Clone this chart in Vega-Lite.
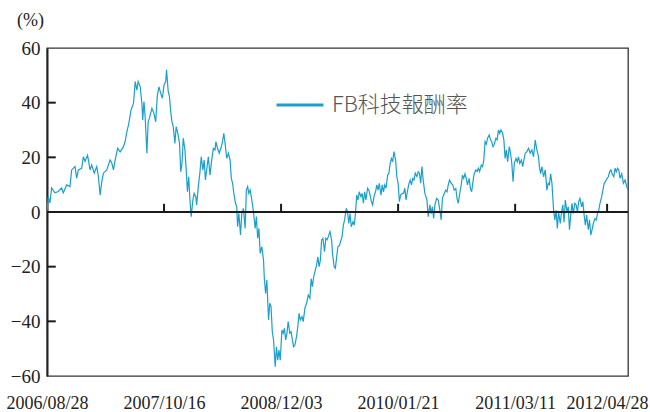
{
  "$schema": "https://vega.github.io/schema/vega-lite/v6.json",
  "width": 581,
  "height": 328,
  "autosize": {"type": "none"},
  "padding": {"left": 47, "top": 48, "right": 22, "bottom": 36},
  "background": "white",
  "config": {
    "view": {"stroke": "#333", "strokeWidth": 1.3},
    "axis": {"grid": false, "labelFont": "Liberation Serif", "labelColor": "#222", "titleFont": "Liberation Serif", "titleColor": "#222", "titleFontWeight": "normal"}
  },
  "datasets": {
    "ret": [
      {"d":0,"r":0},{"d":3,"r":5.6},{"d":7,"r":3.3},{"d":11,"r":8.8},{"d":19,"r":7},{"d":27,"r":7.5},{"d":35,"r":8.8},{"d":39,"r":7},{"d":47,"r":9.9},{"d":55,"r":9.3},{"d":59,"r":15.4},{"d":67,"r":16.6},{"d":71,"r":12.4},{"d":75,"r":15.4},{"d":83,"r":16},{"d":87,"r":20.2},{"d":91,"r":18.5},{"d":97,"r":20.8},{"d":103,"r":15.4},{"d":107,"r":17.2},{"d":113,"r":14.2},{"d":119,"r":16.6},{"d":123,"r":13},{"d":127,"r":6.2},{"d":131,"r":11},{"d":135,"r":14.2},{"d":143,"r":15.4},{"d":151,"r":19},{"d":155,"r":17.9},{"d":159,"r":15.4},{"d":163,"r":19},{"d":169,"r":23.3},{"d":175,"r":22},{"d":183,"r":23.9},{"d":187,"r":25.8},{"d":191,"r":29.4},{"d":195,"r":31.8},{"d":201,"r":37.3},{"d":207,"r":39.8},{"d":211,"r":47.7},{"d":215,"r":44.6},{"d":218,"r":47.7},
      {"d":223,"r":45.8},{"d":227,"r":39.8},{"d":229,"r":33.7},{"d":232,"r":40.4},{"d":235,"r":34.3},{"d":239,"r":21.5},{"d":242,"r":33},{"d":246,"r":34.9},{"d":251,"r":37.9},{"d":256,"r":36.1},{"d":260,"r":33},{"d":264,"r":42.8},{"d":268,"r":45.8},{"d":272,"r":43.4},{"d":276,"r":41.6},{"d":280,"r":46.5},{"d":284,"r":47.7},{"d":286,"r":52},{"d":290,"r":44},{"d":293,"r":42.2},{"d":296,"r":36.7},{"d":299,"r":33},{"d":302,"r":31.2},{"d":306,"r":25.1},{"d":309,"r":31.2},{"d":313,"r":28.8},{"d":317,"r":25.1},{"d":320,"r":14.7},{"d":323,"r":17.8},{"d":326,"r":27},{"d":330,"r":22.7},{"d":333,"r":15.4},{"d":336,"r":7.4},{"d":339,"r":12.9},{"d":342,"r":4.4},{"d":345,"r":-1.7},{"d":349,"r":4.4},{"d":352,"r":6.8},{"d":356,"r":5.6},{"d":358,"r":2.6},{"d":362,"r":9.3},{"d":366,"r":14.7},{"d":369,"r":20.2},{"d":373,"r":15.4},{"d":376,"r":19},{"d":379,"r":11.7},{"d":382,"r":15.4},{"d":386,"r":20.2},{"d":390,"r":13.5},{"d":394,"r":19},{"d":398,"r":23.3},{"d":402,"r":22.7},{"d":404,"r":25.7},{"d":408,"r":23.3},{"d":412,"r":21.5},{"d":416,"r":23.3},{"d":420,"r":25.7},{"d":423,"r":28.8},{"d":426,"r":25.1},{"d":430,"r":19.6},{"d":434,"r":21.5},{"d":438,"r":19},{"d":441,"r":12.3},{"d":444,"r":10.5},{"d":447,"r":6.8},{"d":451,"r":3.2},
      {"d":454,"r":1.9},{"d":456,"r":-5.4},{"d":459,"r":-0.5},{"d":463,"r":-8.4},{"d":466,"r":-0.5},{"d":470,"r":1.3},{"d":474,"r":-6},{"d":477,"r":8},{"d":480,"r":9.3},{"d":483,"r":6.8},{"d":486,"r":8},{"d":490,"r":4.4},{"d":494,"r":0},{"d":498,"r":-6},{"d":501,"r":-1.7},{"d":504,"r":-9.6},{"d":507,"r":-6},{"d":510,"r":-15.1},{"d":514,"r":-12.7},{"d":518,"r":-17.6},{"d":520,"r":-24.4},{"d":523,"r":-29.8},{"d":526,"r":-24.9},{"d":530,"r":-39.5},{"d":533,"r":-33.4},{"d":536,"r":-34.6},{"d":539,"r":-43.8},{"d":542,"r":-46.8},{"d":546,"r":-56.6},{"d":549,"r":-49.3},{"d":552,"r":-54.2},{"d":555,"r":-50.5},{"d":558,"r":-54.2},{"d":562,"r":-43.2},{"d":565,"r":-44.4},{"d":568,"r":-42.6},{"d":571,"r":-46.8},{"d":574,"r":-44.4},{"d":577,"r":-40.1},{"d":581,"r":-44.4},{"d":584,"r":-43.8},{"d":587,"r":-46.8},{"d":590,"r":-49.3},{"d":593,"r":-48.7},{"d":597,"r":-45.6},{"d":600,"r":-42},{"d":603,"r":-37.1},{"d":606,"r":-39.5},{"d":610,"r":-38.3},{"d":613,"r":-40.1},{"d":617,"r":-35.2},{"d":621,"r":-33.4},{"d":625,"r":-30.4},{"d":629,"r":-31.6},{"d":632,"r":-24.4},{"d":635,"r":-27.3},{"d":638,"r":-23.7},{"d":641,"r":-21.8},{"d":645,"r":-19.4},{"d":648,"r":-16.4},{"d":651,"r":-20},{"d":654,"r":-17.6},{"d":657,"r":-10.2},{"d":660,"r":-9.6},{"d":664,"r":-14.5},{"d":667,"r":-9.6},{"d":670,"r":-10.2},{"d":673,"r":-9},{"d":677,"r":-7.2},
      {"d":681,"r":-10.4},{"d":683,"r":-15.1},{"d":687,"r":-20},{"d":690,"r":-20.6},{"d":693,"r":-16.4},{"d":696,"r":-12.7},{"d":700,"r":-12.1},{"d":703,"r":-10.4},{"d":706,"r":-9},{"d":709,"r":-4.8},{"d":712,"r":-2.9},{"d":716,"r":1.3},{"d":719,"r":0},{"d":722,"r":-4.2},{"d":725,"r":-0.6},{"d":728,"r":-5.4},{"d":732,"r":-3.6},{"d":735,"r":-4.8},{"d":738,"r":-0.6},{"d":741,"r":6.2},{"d":744,"r":4.4},{"d":747,"r":7.4},{"d":751,"r":5.6},{"d":754,"r":6.8},{"d":757,"r":3.2},{"d":760,"r":7.4},{"d":763,"r":4.4},{"d":767,"r":8.7},{"d":770,"r":8},{"d":773,"r":6.2},{"d":776,"r":3.8},{"d":779,"r":2.6},{"d":783,"r":6.2},{"d":786,"r":7.4},{"d":789,"r":9.9},{"d":792,"r":8},{"d":795,"r":10.5},{"d":799,"r":6.2},{"d":802,"r":9.9},{"d":805,"r":7.4},{"d":808,"r":9.9},{"d":811,"r":8.7},{"d":815,"r":13.5},{"d":818,"r":14.2},{"d":821,"r":17.8},{"d":824,"r":19.6},{"d":827,"r":18.4},{"d":830,"r":22.1},{"d":834,"r":19},{"d":837,"r":12.9},{"d":840,"r":10.5},{"d":843,"r":3.8},{"d":846,"r":6.2},{"d":850,"r":6.8},{"d":853,"r":6.8},{"d":856,"r":8.7},{"d":859,"r":4.4},{"d":862,"r":7.4},{"d":866,"r":10.5},{"d":869,"r":11.7},{"d":872,"r":9.9},{"d":875,"r":12.3},{"d":878,"r":11.7},{"d":881,"r":14.2},{"d":885,"r":13},{"d":888,"r":14.7},{"d":891,"r":14.2},{"d":894,"r":10.5},{"d":897,"r":16.6},{"d":900,"r":11.7},{"d":904,"r":6.8},
      {"d":909,"r":4.4},{"d":912,"r":-1.7},{"d":916,"r":2.6},{"d":919,"r":-0.6},{"d":922,"r":1.9},{"d":925,"r":-2.4},{"d":928,"r":2.6},{"d":932,"r":5},{"d":936,"r":4.4},{"d":940,"r":0.6},{"d":943,"r":-2.9},{"d":946,"r":5},{"d":949,"r":6.2},{"d":954,"r":8},{"d":957,"r":7.4},{"d":960,"r":9.9},{"d":963,"r":11.7},{"d":967,"r":10.5},{"d":971,"r":9.9},{"d":974,"r":8},{"d":978,"r":8.6},{"d":981,"r":5},{"d":984,"r":3.2},{"d":988,"r":7.4},{"d":991,"r":9.9},{"d":994,"r":13.5},{"d":997,"r":12.3},{"d":1000,"r":14},{"d":1003,"r":12.3},{"d":1006,"r":9.9},{"d":1010,"r":12.3},{"d":1013,"r":8.6},{"d":1016,"r":7.4},{"d":1019,"r":11},{"d":1022,"r":14},{"d":1026,"r":15.4},{"d":1029,"r":14.8},{"d":1032,"r":16},{"d":1035,"r":14.8},{"d":1039,"r":17.2},{"d":1042,"r":16.6},{"d":1045,"r":19},{"d":1048,"r":25.7},{"d":1051,"r":24.8},{"d":1054,"r":27},{"d":1058,"r":28.2},{"d":1061,"r":26.4},{"d":1064,"r":25.7},{"d":1067,"r":23.9},{"d":1070,"r":24.8},{"d":1074,"r":27},{"d":1077,"r":26.4},{"d":1080,"r":30},{"d":1083,"r":28.8},{"d":1086,"r":30},{"d":1090,"r":28.8},{"d":1093,"r":26.4},{"d":1096,"r":19.6},{"d":1099,"r":22.7},{"d":1102,"r":18.4},{"d":1106,"r":23.9},{"d":1109,"r":21.5},{"d":1112,"r":17.8},{"d":1115,"r":11.1},{"d":1118,"r":17.8},{"d":1122,"r":19.6},{"d":1125,"r":18.4},{"d":1128,"r":20.2},{"d":1131,"r":17.8},
      {"d":1135,"r":19},{"d":1138,"r":16.6},{"d":1144,"r":21.5},{"d":1148,"r":22.1},{"d":1152,"r":23.3},{"d":1156,"r":21.5},{"d":1160,"r":22.7},{"d":1164,"r":20.2},{"d":1168,"r":26.3},{"d":1172,"r":22.7},{"d":1176,"r":20.2},{"d":1178,"r":16.6},{"d":1181,"r":14},{"d":1184,"r":16.6},{"d":1188,"r":12.9},{"d":1192,"r":15.4},{"d":1196,"r":8},{"d":1199,"r":10.5},{"d":1202,"r":10},{"d":1205,"r":14},{"d":1208,"r":10.5},{"d":1212,"r":0.6},{"d":1215,"r":-2.9},{"d":1218,"r":0.6},{"d":1221,"r":-6},{"d":1224,"r":0},{"d":1228,"r":-4.2},{"d":1231,"r":0},{"d":1234,"r":2.6},{"d":1237,"r":-3.7},{"d":1240,"r":4.4},{"d":1244,"r":0},{"d":1247,"r":1.9},{"d":1250,"r":-6.5},{"d":1253,"r":-1.1},{"d":1256,"r":3.2},{"d":1259,"r":-0.5},{"d":1263,"r":3.2},{"d":1266,"r":2.6},{"d":1269,"r":0},{"d":1272,"r":3.8},{"d":1275,"r":5},{"d":1279,"r":1.9},{"d":1282,"r":3.8},{"d":1285,"r":-1.1},{"d":1288,"r":-4.8},{"d":1291,"r":-1.1},{"d":1295,"r":-6.5},{"d":1298,"r":-2.9},{"d":1301,"r":-8.4},{"d":1304,"r":-6.5},{"d":1307,"r":-4.2},{"d":1311,"r":-2.4},{"d":1314,"r":-2.9},{"d":1317,"r":-0.6},{"d":1320,"r":0.6},{"d":1323,"r":3.2},{"d":1327,"r":5.6},{"d":1330,"r":8},{"d":1333,"r":10.5},{"d":1336,"r":11.1},{"d":1340,"r":12.3},{"d":1343,"r":12.9},{"d":1346,"r":14.7},{"d":1349,"r":15.4},{"d":1352,"r":14},{"d":1356,"r":12.9},{"d":1359,"r":16},{"d":1362,"r":14.7},{"d":1365,"r":16},{"d":1368,"r":15.4},{"d":1371,"r":12.3},{"d":1375,"r":14},{"d":1379,"r":10.5},{"d":1383,"r":11.7},{"d":1387,"r":9.3},{"d":1390,"r":8}
    ],
    "ticks": [{"d":280},{"d":560},{"d":840},{"d":1120},{"d":1340}],
    "yticks": [{"v":40},{"v":20},{"v":-20},{"v":-40}]
  },
  "layer": [
    {
      "data": {"name": "ret"},
      "mark": {"type": "line", "strokeWidth": 1.2, "clip": true},
      "encoding": {
        "x": {
          "field": "d", "type": "quantitative",
          "scale": {"domain": [0, 1390], "nice": false, "zero": false},
          "axis": {
            "title": null, "values": [0, 280, 560, 840, 1120, 1340],
            "ticks": false, "tickSize": 0, "domain": false,
            "labelFontSize": 18, "labelPadding": 18, "labelFlush": false, "labelOverlap": false, "labelBound": false,
            "labelExpr": "datum.value == 0 ? '2006/08/28' : datum.value == 280 ? '2007/10/16' : datum.value == 560 ? '2008/12/03' : datum.value == 840 ? '2010/01/21' : datum.value == 1120 ? '2011/03/11' : '2012/04/28'"
          }
        },
        "y": {
          "field": "r", "type": "quantitative",
          "scale": {"domain": [-60, 60], "nice": false},
          "axis": {
            "title": "(%)", "titleAngle": 0, "titleX": -17, "titleY": -28, "titleAlign": "center", "titleBaseline": "middle", "titleFontSize": 18,
            "values": [-60, -40, -20, 0, 20, 40, 60],
            "ticks": false, "tickSize": 0,
            "domainColor": "#222", "domainWidth": 2,
            "labelFontSize": 19, "labelPadding": 7, "labelFlush": false, "labelOverlap": false, "labelBound": false
          }
        },
        "color": {
          "datum": "FB科技報酬率",
          "scale": {"range": ["#1a9fcf"]},
          "legend": {
            "title": null, "orient": "none", "legendX": 228, "legendY": 32, "padding": 0, "offset": 0,
            "symbolType": "stroke", "symbolSize": 2200, "symbolStrokeWidth": 3,
            "labelFont": "Noto Sans CJK TC", "labelFontSize": 22, "labelFontWeight": 300, "labelColor": "#555", "labelOffset": 7
          }
        }
      }
    },
    {
      "data": {"values": [{"z": 0}]},
      "mark": {"type": "rule", "color": "#1a1a1a", "strokeWidth": 2},
      "encoding": {"y": {"field": "z", "type": "quantitative"}}
    },
    {
      "data": {"name": "ticks"},
      "mark": {"type": "rule", "color": "#1a1a1a", "strokeWidth": 2},
      "encoding": {
        "x": {"field": "d", "type": "quantitative"},
        "y": {"datum": 0},
        "y2": {"datum": 3}
      }
    },
    {
      "data": {"name": "yticks"},
      "mark": {"type": "rule", "color": "#1a1a1a", "strokeWidth": 2},
      "encoding": {
        "y": {"field": "v", "type": "quantitative"},
        "x": {"datum": 0},
        "x2": {"datum": 21}
      }
    }
  ]
}
